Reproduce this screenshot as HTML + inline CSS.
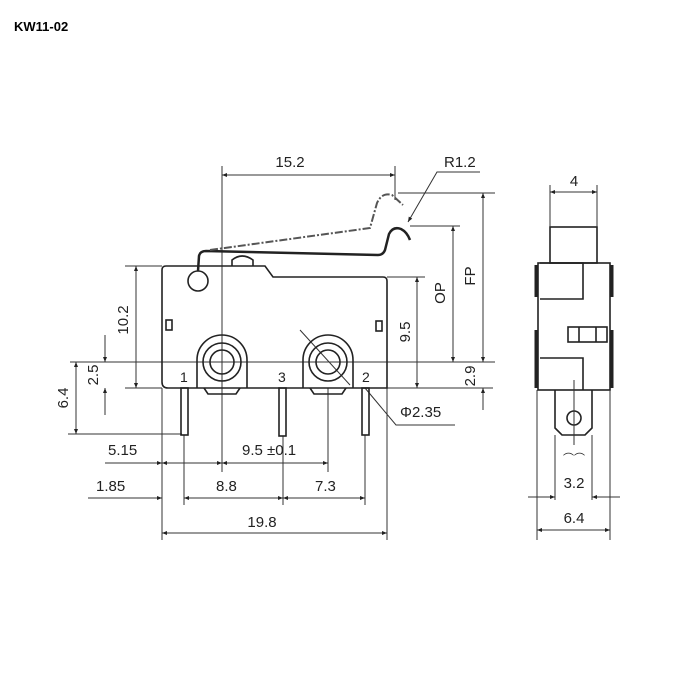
<!DOCTYPE html>
<html><head><meta charset="utf-8"><style>
html,body{margin:0;padding:0;background:#fff}
svg{display:block}
text{font-family:"Liberation Sans",Arial,sans-serif;fill:#222}
</style></head><body>
<svg width="700" height="700" viewBox="0 0 700 700" xmlns="http://www.w3.org/2000/svg">
<defs>
<marker id="a" viewBox="0 0 10 10" refX="10" refY="5" markerWidth="7" markerHeight="5" orient="auto-start-reverse" markerUnits="userSpaceOnUse"><path d="M0,1 L10,5 L0,9 z" fill="#222"/></marker>
</defs>
<text x="14" y="31" font-size="13" font-weight="bold" style="fill:#000">KW11-02</text>

<g stroke="#333" stroke-width="1" fill="none">
<line x1="70" y1="362" x2="495" y2="362"/>
<line x1="125" y1="388" x2="162" y2="388"/>
<line x1="387" y1="388" x2="493" y2="388"/>
<line x1="125" y1="266" x2="162" y2="266"/>
<line x1="68" y1="434" x2="182" y2="434"/>
<line x1="398" y1="193" x2="495" y2="193"/>
<line x1="410" y1="226" x2="460" y2="226"/>
<line x1="387" y1="277" x2="425" y2="277"/>
<line x1="222" y1="166" x2="222" y2="472"/>
<line x1="395" y1="166" x2="395" y2="200"/>
<line x1="162" y1="388" x2="162" y2="540"/>
<line x1="387" y1="388" x2="387" y2="540"/>
<line x1="184" y1="435" x2="184" y2="505"/>
<line x1="283" y1="436" x2="283" y2="505"/>
<line x1="365" y1="435" x2="365" y2="505"/>
<line x1="328" y1="388" x2="328" y2="472"/>
<line x1="136" y1="266" x2="136" y2="388" marker-start="url(#a)" marker-end="url(#a)"/>
<line x1="105" y1="335" x2="105" y2="362" marker-end="url(#a)"/>
<line x1="105" y1="415" x2="105" y2="388" marker-end="url(#a)"/>
<line x1="76" y1="362" x2="76" y2="434" marker-start="url(#a)" marker-end="url(#a)"/>
<line x1="417" y1="277" x2="417" y2="388" marker-start="url(#a)" marker-end="url(#a)"/>
<line x1="453" y1="226" x2="453" y2="362" marker-start="url(#a)" marker-end="url(#a)"/>
<line x1="483" y1="193" x2="483" y2="362" marker-start="url(#a)" marker-end="url(#a)"/>
<line x1="483" y1="410" x2="483" y2="388" marker-end="url(#a)"/>
<line x1="222" y1="175" x2="395" y2="175" marker-start="url(#a)" marker-end="url(#a)"/>
<line x1="105" y1="463" x2="162" y2="463" marker-end="url(#a)"/>
<line x1="162" y1="463" x2="222" y2="463" marker-start="url(#a)" marker-end="url(#a)"/>
<line x1="222" y1="463" x2="328" y2="463" marker-start="url(#a)" marker-end="url(#a)"/>
<line x1="88" y1="498" x2="162" y2="498" marker-end="url(#a)"/>
<line x1="184" y1="498" x2="283" y2="498" marker-start="url(#a)" marker-end="url(#a)"/>
<line x1="283" y1="498" x2="365" y2="498" marker-start="url(#a)" marker-end="url(#a)"/>
<line x1="162" y1="533" x2="387" y2="533" marker-start="url(#a)" marker-end="url(#a)"/>
<polyline points="300,330 350,385"/>
<polyline points="365,388 396,425 455,425"/>
<polyline points="480,172 437,172 408,222" marker-end="url(#a)"/>
</g>

<g stroke="#222" stroke-width="1.6" fill="none">
<path d="M162,270 Q162,266 166,266 L265,266 L273,277 L383,277 Q387,277 387,281 L387,388 L168,388 Q162,388 162,382 Z"/>
<circle cx="198" cy="281" r="10"/>
<rect x="166" y="320" width="6" height="10"/>
<rect x="376" y="321" width="6" height="10"/>
<path d="M232,266 L232,260 Q242,252 253,260 L253,266"/>
<path d="M198,271 L199,256 Q200,251 206,251 L378,255 Q383,255 385,250 L389,234 Q393,226 401,229 Q407,232 410,240" stroke-width="2.5"/>
<path d="M197,388 L197,360 A25,25 0 0 1 247,360 L247,388"/>
<circle cx="222" cy="362" r="19"/>
<circle cx="222" cy="362" r="12"/>
<path d="M303,388 L303,360 A25,25 0 0 1 353,360 L353,388"/>
<circle cx="328" cy="362" r="19"/>
<circle cx="328" cy="362" r="12"/>
<path d="M204,388 L208,394 L236,394 L240,388"/>
<path d="M310,388 L314,394 L342,394 L346,388"/>
<rect x="181" y="388" width="7" height="47"/>
<rect x="279" y="388" width="7" height="48"/>
<rect x="362" y="388" width="7" height="47"/>
</g>
<path d="M210,250 L370,228 L377,203 Q382,192 392,195 L403,205" stroke="#555" stroke-width="2" fill="none" stroke-dasharray="8,2,2,2"/>

<g font-size="15">
<text x="290" y="167" text-anchor="middle">15.2</text>
<text x="444" y="167">R1.2</text>
<text x="180" y="382" font-size="14">1</text>
<text x="278" y="382" font-size="14">3</text>
<text x="362" y="382" font-size="14">2</text>
<text x="400" y="417">Φ2.35</text>
<text x="108" y="455">5.15</text>
<text x="242" y="455">9.5 ±0.1</text>
<text x="96" y="491">1.85</text>
<text x="216" y="491">8.8</text>
<text x="315" y="491">7.3</text>
<text x="262" y="527" text-anchor="middle">19.8</text>
<text transform="translate(128,320) rotate(-90)" text-anchor="middle">10.2</text>
<text transform="translate(98,375) rotate(-90)" text-anchor="middle">2.5</text>
<text transform="translate(68,398) rotate(-90)" text-anchor="middle">6.4</text>
<text transform="translate(410,332) rotate(-90)" text-anchor="middle">9.5</text>
<text transform="translate(445,293) rotate(-90)" text-anchor="middle">OP</text>
<text transform="translate(475,276) rotate(-90)" text-anchor="middle">FP</text>
<text transform="translate(475,376) rotate(-90)" text-anchor="middle">2.9</text>
</g>

<g stroke="#222" stroke-width="1.6" fill="none">
<rect x="550" y="227" width="47" height="36"/>
<rect x="538" y="263" width="72" height="127"/>
<path d="M540,263 L583,263 L583,299 L540,299"/>
<rect x="568" y="327" width="39" height="15"/>
<line x1="579" y1="327" x2="579" y2="342"/>
<line x1="596" y1="327" x2="596" y2="342"/>
<path d="M540,358 L583,358 L583,390"/>
<path d="M555,390 L555,428 L562,435 L585,435 L592,428 L592,390"/>
<circle cx="574" cy="418" r="7"/>
<line x1="536" y1="265" x2="536" y2="297" stroke-width="3"/>
<line x1="612" y1="265" x2="612" y2="297" stroke-width="3"/>
<line x1="536" y1="330" x2="536" y2="388" stroke-width="3"/>
<line x1="612" y1="330" x2="612" y2="388" stroke-width="3"/>
</g>
<g stroke="#333" stroke-width="1" fill="none">
<line x1="550" y1="185" x2="550" y2="227"/>
<line x1="597" y1="185" x2="597" y2="227"/>
<line x1="550" y1="192" x2="597" y2="192" marker-start="url(#a)" marker-end="url(#a)"/>
<line x1="574" y1="380" x2="574" y2="445"/>
<line x1="555" y1="435" x2="555" y2="500"/>
<line x1="592" y1="435" x2="592" y2="500"/>
<line x1="537" y1="390" x2="537" y2="540"/>
<line x1="610" y1="390" x2="610" y2="540"/>
<line x1="528" y1="497" x2="555" y2="497" marker-end="url(#a)"/>
<line x1="620" y1="497" x2="592" y2="497" marker-end="url(#a)"/>
<line x1="537" y1="530" x2="610" y2="530" marker-start="url(#a)" marker-end="url(#a)"/>
</g>
<g font-size="15">
<text x="574" y="186" text-anchor="middle">4</text>
<text x="574" y="462" text-anchor="middle" font-size="11">⌒⌒</text>
<text x="574" y="488" text-anchor="middle">3.2</text>
<text x="574" y="523" text-anchor="middle">6.4</text>
</g>
</svg>
</body></html>
